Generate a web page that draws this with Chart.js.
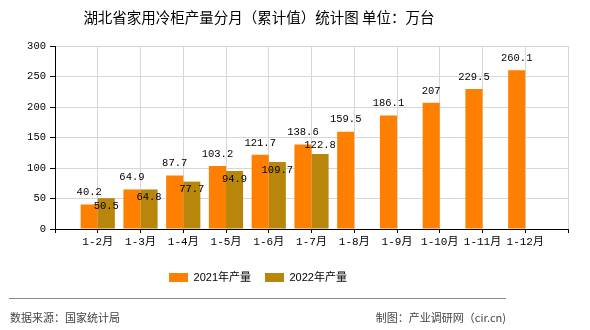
<!DOCTYPE html>
<html>
<head>
<meta charset="utf-8">
<script src="https://cdn.jsdelivr.net/npm/chart.js@4.4.0/dist/chart.umd.min.js"></script>
<style>
    html, body { margin: 0; padding: 0; background: #fff; }
    #wrap { position: relative; width: 590px; height: 330px; overflow: hidden; }
    #chart { position: absolute; left: 0; top: 0; }
    .title {
        position: absolute; left: 0; top: 8px; width: 518px;
        text-align: center; font: 14.5px "Noto Sans CJK SC", sans-serif;
        line-height: 18px; color: #000;
    }
    .rule { position: absolute; left: 9px; top: 298px; width: 497px; border-top: 1px solid #888; }
    .note {
        position: absolute; top: 309px; font: 11px "Noto Sans CJK SC", sans-serif;
        line-height: 16px; color: #444;
    }
    .src { left: 10px; }
    .credit { right: 84px; }
</style>
</head>
<body>
<div id="wrap">
    <canvas id="chart" width="590" height="330"></canvas>
    <div class="title">湖北省家用冷柜产量分月（累计值）统计图 单位：万台</div>
    <div class="rule"></div>
    <div class="note src">数据来源：国家统计局</div>
    <div class="note credit">制图：产业调研网（cir.cn)</div>
</div>
<script>
// cumulative output, 10k units
const months = ["1-2月", "1-3月", "1-4月", "1-5月", "1-6月", "1-7月",
    "1-8月", "1-9月", "1-10月", "1-11月", "1-12月"];
const output2021 = [40.2, 64.9, 87.7, 103.2, 121.7, 138.6, 159.5, 186.1, 207, 229.5, 260.1];
const output2022 = [50.5, 64.8, 77.7, 94.9, 109.7, 122.8];
const yTicks = [0, 50, 100, 150, 200, 250, 300];

// the axis keeps an empty slot at each end, bars sit on the grid lines
function pad(values) {
    const out = [null];
    for (let i = 0; i < months.length; i++) out.push(i < values.length ? values[i] : null);
    out.push(null);
    return out;
}

const valueLabels = {
    id: "valueLabels",
    afterDatasetsDraw(chart) {
        const ctx = chart.ctx;
        ctx.save();
        ctx.font = '10.5px "Liberation Mono", monospace';
        ctx.fillStyle = "#000";
        ctx.textAlign = "center";
        ctx.textBaseline = "middle";
        chart.data.datasets.forEach((ds, i) => {
            chart.getDatasetMeta(i).data.forEach((bar, j) => {
                const v = ds.data[j];
                if (v == null) return;
                let dy = -12;
                if (i === 1) dy = ds.data[j + 1] == null ? -9 : 8;
                ctx.fillText(String(v), bar.x, bar.y + dy);
            });
        });
        ctx.restore();
    },
};

// legend is centred on the title, not on the full canvas
const legendShift = {
    id: "legendShift",
    afterLayout(chart) {
        chart.legend.left = 0;
        chart.legend.right = 516;
    },
};

const tickFont = { family: '"Liberation Mono", "Noto Sans CJK SC", monospace', size: 11 };

new Chart(document.getElementById("chart").getContext("2d"), {
    type: "bar",
    data: {
        labels: ["", ...months, ""],
        datasets: [
            { label: "2021年产量", data: pad(output2021), backgroundColor: "#ff8000" },
            { label: "2022年产量", data: pad(output2022), backgroundColor: "#b8860b" },
        ],
    },
    options: {
        responsive: false,
        animation: false,
        layout: { padding: { top: 46, right: 22, bottom: 37, left: 0 } },
        datasets: { bar: { categoryPercentage: 0.8, barPercentage: 1 } },
        plugins: {
            legend: {
                position: "bottom",
                labels: {
                    boxWidth: 19, boxHeight: 9, padding: 14, color: "#000",
                    font: { family: '"Liberation Sans", "Noto Sans CJK SC", sans-serif', size: 11 },
                },
            },
            tooltip: { enabled: false },
        },
        scales: {
            x: {
                offset: false,
                grid: { offset: false, color: "#d6d6d6", tickColor: "#000", tickLength: 4 },
                border: { color: "#000" },
                ticks: { autoSkip: false, maxRotation: 0, padding: 2, color: "#000", font: tickFont },
                afterFit(scale) { scale.height = 29; },
            },
            y: {
                min: yTicks[0],
                max: yTicks[yTicks.length - 1],
                grid: { color: "#d6d6d6", tickColor: "#000", tickLength: 5 },
                border: { color: "#000" },
                ticks: { stepSize: yTicks[1] - yTicks[0], padding: 4, color: "#000", font: { ...tickFont, size: 10.5 } },
                afterFit(scale) { scale.width = 55; },
            },
        },
    },
    plugins: [valueLabels, legendShift],
});
</script>
</body>
</html>
